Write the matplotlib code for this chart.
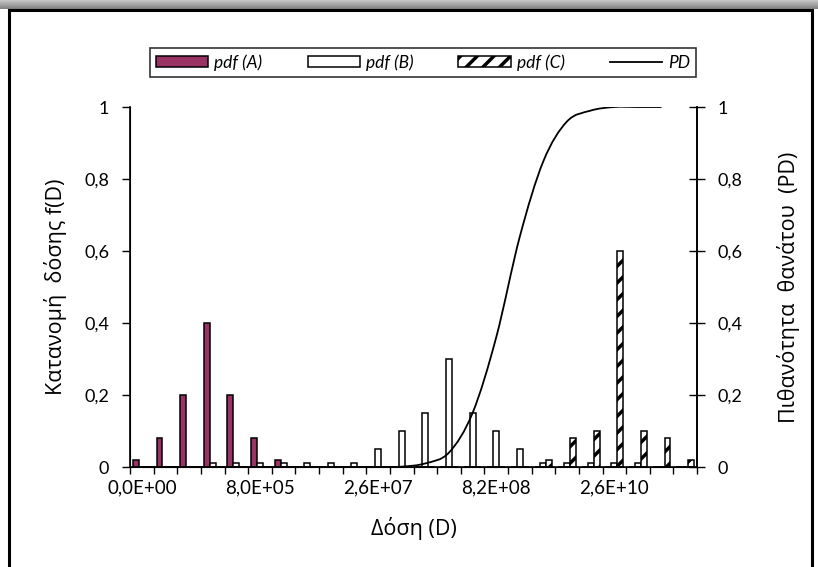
import numpy as np
import matplotlib.pyplot as plt
from matplotlib.path import Path
from matplotlib.patches import PathPatch, Rectangle
from matplotlib.lines import Line2D

# ---- data ------------------------------------------------------------------

# 24 dose classes, each one double the previous (first class is zero dose)
n_cat = 24
label_pos = [0, 5, 10, 15, 20]
label_txt = ["0,0E+00", "8,0E+05", "2,6E+07", "8,2E+08", "2,6E+10"]

pdf_a = [0.02, 0.08, 0.20, 0.40, 0.20, 0.08, 0.02, 0, 0, 0, 0, 0,
         0, 0, 0, 0, 0, 0, 0, 0, 0, 0, 0, 0]
pdf_b = [0, 0, 0, 0.01, 0.01, 0.01, 0.01, 0.01, 0.01, 0.01, 0.05, 0.10,
         0.15, 0.30, 0.15, 0.10, 0.05, 0.01, 0.01, 0.01, 0.01, 0.01, 0, 0]
pdf_c = [0, 0, 0, 0, 0, 0, 0, 0, 0, 0, 0, 0,
         0, 0, 0, 0, 0, 0.02, 0.08, 0.10, 0.60, 0.10, 0.08, 0.02]

# probability of death, one point per class (line stops at class 22)
pd_vals = [0, 0, 0, 0, 0, 0, 0, 0, 0, 0, 0, 0.001,
           0.01, 0.04, 0.15, 0.36, 0.64, 0.85, 0.96, 0.99, 1.0, 1.0, 1.0]

yticks = [0, 0.2, 0.4, 0.6, 0.8, 1.0]
ytick_txt = ["0", "0,2", "0,4", "0,6", "0,8", "1"]


# ---- fonts -------------------------------------------------------------------

plt.rcParams["font.family"] = ["Lato", "Open Sans", "DejaVu Sans"]
plt.rcParams["hatch.linewidth"] = 2.5
greek = ["Open Sans", "DejaVu Sans"]   # Lato here has no Greek letters

W, H = 818, 567
fig = plt.figure(figsize=(W / 100, H / 100), dpi=100)

# gray shadow band on top and the chart frame
band = fig.add_axes([0, 1 - 9 / H, 1, 9 / H])
band.imshow(np.linspace(0.78, 0.5, 20).reshape(-1, 1), cmap="gray",
            vmin=0, vmax=1, aspect="auto", extent=[0, 1, 0, 1])
band.axis("off")
fig.patches.append(Rectangle((9 / W, -0.05), (W - 6) / W - 9 / W, 1.05 - 9 / H - 0.002,
                             transform=fig.transFigure, fill=False,
                             edgecolor="black", linewidth=2.2))

# ---- bars (left axis) ------------------------------------------------------

ax = fig.add_axes([130 / W, 1 - 467 / H, 567 / W, 360 / H])
x = np.arange(n_cat)
w = 0.25
bars_a = ax.bar(x - w, pdf_a, w, color="#993366", edgecolor="black", linewidth=1.1)
bars_b = ax.bar(x, pdf_b, w, color="white", edgecolor="black", linewidth=1.1)
bars_c = ax.bar(x + w, pdf_c, w, color="white", edgecolor="black", linewidth=1.1,
                hatch="//")

ax.set_xlim(-0.5, n_cat - 0.5)
ax.set_ylim(0, 1)
ax.set_yticks(yticks)
ax.set_yticklabels(ytick_txt, fontsize=13)
ax.set_xticks(np.arange(-0.5, n_cat, 1.0))
ax.set_xticklabels([])
ax.set_xticks(label_pos, minor=True)
ax.set_xticklabels(label_txt, minor=True, fontsize=13.5)
ax.tick_params(axis="x", which="major", direction="out", length=5, width=1)
ax.tick_params(axis="x", which="minor", length=0, pad=9)
ax.tick_params(axis="y", direction="out", length=6, width=1, pad=9)
ax.spines["top"].set_visible(False)
for s in ["left", "bottom", "right"]:
    ax.spines[s].set_linewidth(1.2)
ax.set_xlabel("Δόση (D)", fontsize=15.5, labelpad=15, family=greek)
ax.set_ylabel("Κατανομή  δόσης f(D)", fontsize=15.5, labelpad=12, family=greek)

# ---- PD curve (right axis), smoothed like the spreadsheet line ------------

ax2 = ax.twinx()
ax2.set_ylim(0, 1)
ax2.set_yticks(yticks)
ax2.set_yticklabels(ytick_txt, fontsize=13)
ax2.tick_params(axis="y", direction="inout", length=11, width=1, pad=9)
ax2.spines["top"].set_visible(False)
ax2.spines["right"].set_linewidth(1.2)
ax2.set_ylabel("Πιθανότητα  θανάτου  (PD)", fontsize=15.5, labelpad=25, family=greek)

px = np.arange(len(pd_vals), dtype=float)
py = np.array(pd_vals, dtype=float)
pts = np.column_stack([px, py])
ext = np.vstack([pts[0], pts, pts[-1]])
verts = [pts[0]]
codes = [Path.MOVETO]
for i in range(len(pts) - 1):
    p0, p1, p2, p3 = ext[i], ext[i + 1], ext[i + 2], ext[i + 3]
    verts += [p1 + (p2 - p0) / 6, p2 - (p3 - p1) / 6, p2]
    codes += [Path.CURVE4] * 3
ax2.add_patch(PathPatch(Path(verts, codes), fill=False, edgecolor="black",
                        linewidth=1.3, zorder=5))

# ---- legend ------------------------------------------------------------------

pd_handle = Line2D([], [], color="black", linewidth=1.3)
leg = fig.legend([bars_a, bars_b, bars_c, pd_handle],
                 ["pdf (A)", "pdf (B)", "pdf (C)", "PD"],
                 loc="center", bbox_to_anchor=(423 / W, 1 - 62.5 / H), ncol=4,
                 frameon=True, fancybox=False, edgecolor="black",
                 handlelength=3.0, handleheight=0.6, handletextpad=0.35,
                 columnspacing=2.6, borderpad=0.35,
                 prop={"style": "italic", "size": 12.5})
leg.get_frame().set_linewidth(1.2)

fig.savefig("out.png", dpi=100)
